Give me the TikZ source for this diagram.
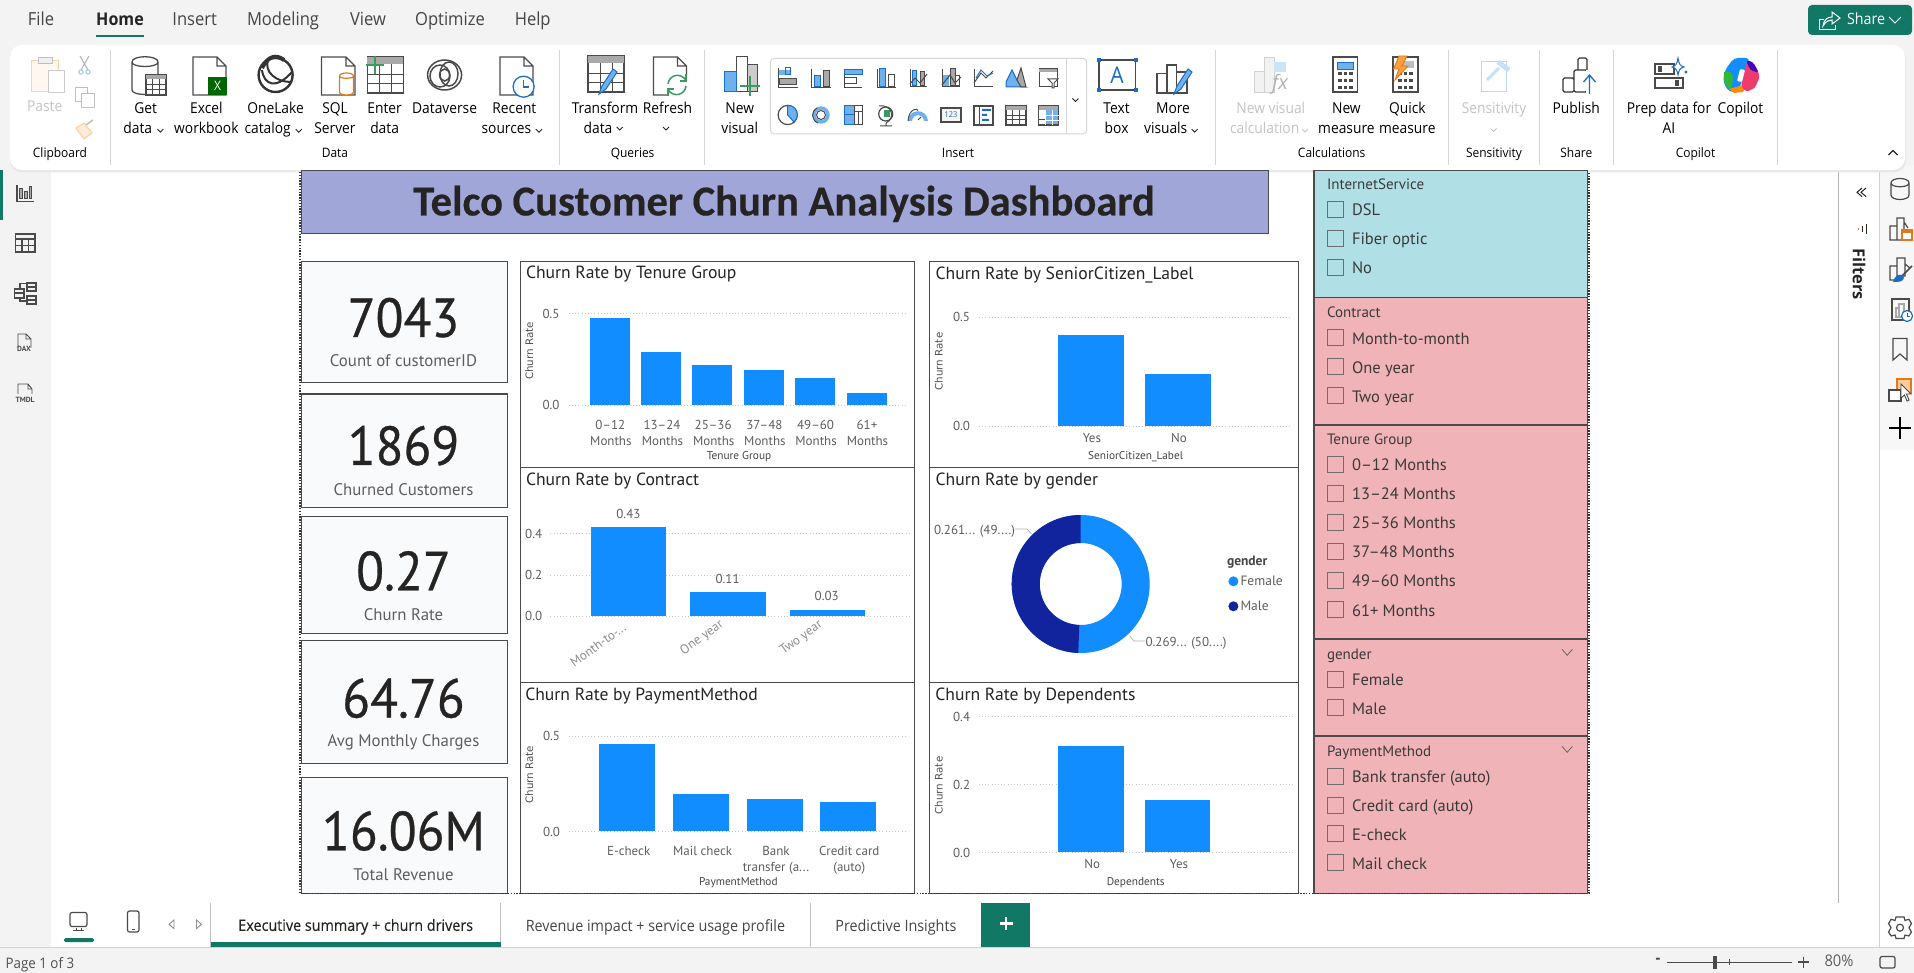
\documentclass[tikz,border=0pt]{standalone}
\usepackage{fontspec}
\setmainfont{Open Sans}
\newfontfamily\ui[FakeStretch=0.92]{Open Sans}
\newfontfamily\uim[FakeStretch=0.92,FakeBold=0.3]{Open Sans}
\newfontfamily\din{PT Sans}
\newfontfamily\dinnum[FakeStretch=0.93,FakeBold=0.5]{PT Sans}
\newfontfamily\vd{DejaVu Sans}
\newfontfamily\ttl[FakeBold=0.4]{Carlito}
\definecolor{pbgreen}{HTML}{117865}
\definecolor{pbblue}{HTML}{118DFF}
\definecolor{pbnavy}{HTML}{12239E}
\definecolor{chrome}{HTML}{F3F3F3}
\definecolor{ink}{HTML}{252423}
\definecolor{mid}{HTML}{605E5C}
\definecolor{dis}{HTML}{C4C4C4}
\definecolor{frame}{HTML}{4A4A4A}
\definecolor{cardbg}{HTML}{F9FAFC}
\definecolor{titlebg}{HTML}{A0A6D8}
\definecolor{cyanbg}{HTML}{B0E0E6}
\definecolor{pinkbg}{HTML}{F0B3B7}
\definecolor{icd}{HTML}{4A4A4A}
\definecolor{icb}{HTML}{6FB1EC}
\definecolor{icl}{HTML}{1B6EC2}
\definecolor{icg}{HTML}{A9A9A9}
\definecolor{ico}{HTML}{E07A1B}
\definecolor{icv}{HTML}{3C9A5F}
\newcounter{tn}
\newcommand\T[5][]{\stepcounter{tn}\node[txt,yshift=-.8pt,#1] (t\thetn) at (#2,#3) {\fontsize{#4}{#4}\selectfont\vphantom{Ag}#5};}
\newcommand\TN[5][]{\stepcounter{tn}\node[txt,#1] (t\thetn) at (#2,#3) {\fontsize{#4}{#4}\selectfont #5};}
\newcommand\RL[3]{\T{#1}{109}{15}{\ui #2}\T{#1}{129}{15}{\ui #3}}
\newcommand\GL[2]{\T{#1}{153.3}{13}{\ui #2}}
\newcommand\Chev[2]{\draw[ink,line width=.9] (#1-3,#2-1.5) -- (#1,#2+1.5) -- (#1+3,#2-1.5);}
\newcommand\Sep[1]{\draw[sepline] (#1,50) -- (#1,165);}
\newcommand\DocI[5][black!70]{\draw[line width=1.2,draw=#1,fill=white] (#2,#3) -- (#2+#4-9,#3) -- (#2+#4,#3+9) -- (#2+#4,#3+#5) -- (#2,#3+#5) -- cycle (#2+#4-9,#3) -- (#2+#4-9,#3+9) -- (#2+#4,#3+9);}
\newcommand\TabI[4]{\draw[line width=1.1,draw=icd,fill=white] (#1,#2) rectangle (#1+#3,#2+#4);
 \fill[icg] (#1,#2) rectangle (#1+#3,#2+#4/5);
 \draw[line width=.8,draw=icd] (#1+#3/3,#2+#4/5) -- (#1+#3/3,#2+#4) (#1+2*#3/3,#2+#4/5) -- (#1+2*#3/3,#2+#4) (#1,#2+#4*.47) -- (#1+#3,#2+#4*.47) (#1,#2+#4*.73) -- (#1+#3,#2+#4*.73);}
\newcommand\BarsI[5][white]{\draw[line width=1.2,draw=icd,fill=#1] (#2,#3+#5*.45) rectangle (#2+#4*.33,#3+#5);
 \draw[line width=1.2,draw=icd,fill=white] (#2+#4*.33,#3+#5*.2) rectangle (#2+#4*.66,#3+#5);
 \draw[line width=1.2,draw=icd,fill=white] (#2+#4*.66,#3+#5*.4) rectangle (#2+#4,#3+#5);}
\newcommand\CylI[5][icd]{\draw[line width=1.2,draw=#1,fill=#5] (#2,#3+3) -- (#2,#3+#4-3) .. controls (#2,#3+#4+1) and (#2+14,#3+#4+1) .. (#2+14,#3+#4-3) -- (#2+14,#3+3) .. controls (#2+14,#3-1) and (#2,#3-1) .. (#2,#3+3) .. controls (#2,#3+6) and (#2+14,#3+6) .. (#2+14,#3+3);}
\newcommand\PencilI[2]{\draw[line width=1,draw=icl,fill=icb] (#1,#2) -- (#1+3,#2-8) -- (#1+14,#2-25) -- (#1+18,#2-22) -- (#1+7,#2-5) -- cycle;}
\newcommand\CalcI[3]{\draw[line width=1.4,draw=icd,fill=white] (#1,#2) rectangle (#1+#3,#2+35);
 \foreach \r in {15,22,29}{\foreach \c in {5,10.5,16}{\fill[icd] (#1+\c,#2+\r) rectangle (#1+\c+3.5,#2+\r+3.5);}}}
\newcommand\ChkBox[1]{\draw[draw=frame!80,line width=.8] (1327.6,#1-8) rectangle (1343.2,#1+8);}
\newcommand\SlI[2]{\ChkBox{#1}\T[anchor=west]{1352}{#1+2}{16.5}{\din\color{ink!90} #2}}
\newcommand\SlH[2]{\T[anchor=west]{1327}{#1+1}{15}{\din\color{ink!90} #2}}
\newcommand\SlB[3]{\draw[draw=frame,line width=1.4,fill=#3] (1313.8,#1) rectangle (1587.4,#2);}
\newcommand\VChev[1]{\draw[mid,line width=.7] (1562,#1-3) -- (1567.2,#1+3) -- (1572.4,#1-3);}
\newcommand\GridL[3]{\draw[gridl] (#1,#3) -- (#2,#3);}
\newcommand\BarB[4]{\fill[pbblue] (#1,#3) rectangle (#2,#4);}
\newcommand\AX[3]{\T{#1}{#2+.8}{13}{\din\color{mid} #3}}
\newcommand\AT[3]{\T{#1}{#2+.8}{11.3}{\din\color{ink!85} #3}}
\newcommand\CR[2]{\T[rotate=90]{#1}{#2}{10.3}{\vd\color{ink!80} Churn Rate}}
\newcommand\CT[3]{\T[anchor=west]{#1}{#2+1.8}{17.6}{\din\color{ink} #3}}
\newcommand\CardB[2]{\draw[draw=frame,line width=1.3,fill=cardbg] (301.5,#1) rectangle (507.5,#2);}
\newcommand\ChartB[4]{\draw[draw=frame,line width=1.3,fill=white] (#1,#3) rectangle (#2,#4);}
\tikzset{txt/.style={inner sep=0pt,outer sep=0pt,align=center},
 sepline/.style={draw=black!16,line width=.8},
 gridl/.style={draw=black!22,line width=.8,dash pattern=on 1pt off 2.2pt},
 dotf/.style={draw=black!80,line width=1.4,dash pattern=on 1.4pt off 1.4pt}}
\begin{document}
\begin{tikzpicture}[x=1pt,y=-1pt]
\useasboundingbox (0,0) rectangle (1914,973);
% backgrounds
\fill[chrome] (0,0) rectangle (1914,973);
\fill[white] (51,165) rectangle (1880,947);
\fill[black!3] (1880,165) rectangle (1914,450);
\fill[white] (1880,450) rectangle (1914,947);
\draw[black!18,line width=1] (0,947.5) -- (1914,947.5);
\draw[black!18,line width=.8] (1879.7,165) -- (1879.7,947);
\draw[black!30,line width=1] (1838.3,165) -- (1838.3,902.7);
% ribbon
\fill[black!9,rounded corners=12pt] (10,47) rectangle (1906,172.5);
\fill[white,rounded corners=12pt] (10,45) rectangle (1905,170);
% menu
\T{41}{20.5}{18}{\ui\color{ink!85} File}
\T{120}{20.5}{17.5}{\ui\bfseries\color{ink} Home}
\T{194.7}{20.5}{18}{\ui\color{ink!85} Insert}
\T{283}{20.5}{18}{\ui\color{ink!85} Modeling}
\T{368}{20.5}{18}{\ui\color{ink!85} View}
\T{450}{20.5}{18}{\ui\color{ink!85} Optimize}
\T{532.7}{20.5}{18}{\ui\color{ink!85} Help}
\fill[pbgreen] (96,35) rectangle (144,37);
% share
\fill[pbgreen,rounded corners=4pt] (1808,5) rectangle (1912,35);
\T{1866}{20}{15.5}{\ui\color{white} Share}
\draw[white,line width=1] (1889,17) -- (1895,23) -- (1901,17);
\draw[white,line width=1] (1824,20) -- (1819,20) -- (1819,30) -- (1835,30) -- (1835,25);
\draw[white,line width=1] (1823,26) .. controls (1824,19) and (1828,17) .. (1832,17) -- (1832,12) -- (1840,18) -- (1832,24) -- (1832,20) .. controls (1829,20) and (1826,21) .. cycle;
% separators
\foreach \x in {110.8,559.7,704.2,1215.5,1448.5,1539.4,1613,1777.3}{\Sep{\x}}
% ribbon icons -------------------------------------------------
% clipboard group
\draw[line width=1,draw=orange!35,fill=orange!6] (31,61) rectangle (58,92);
\draw[line width=1,draw=black!20,fill=white] (48,71) rectangle (64,93);
\draw[line width=1,draw=black!25,fill=black!6] (38,58) rectangle (52,64);
\draw[line width=1,draw=black!30] (80,56) -- (88,70) (89,56) -- (81,70);
\draw[line width=1,draw=icb!70] (81,72) circle[radius=2.2] (88,72) circle[radius=2.2];
\draw[line width=1,draw=black!25,fill=white] (75,88) rectangle (87,102);
\draw[line width=1,draw=black!25,fill=white] (81,94) rectangle (94,108);
\draw[line width=1,draw=orange!40,fill=orange!15] (76,128) -- (84,123) -- (92,133) -- (84,139) -- cycle;
\draw[line width=1.5,draw=black!25] (86,125) -- (93,120);
\T{44.7}{107}{15}{\ui\color{dis} Paste}
\GL{60}{Clipboard}
% Get data
\draw[line width=1.3,draw=icd,fill=white] (132,62) -- (132,90) .. controls (132,96) and (158,96) .. (158,90) -- (158,62) .. controls (158,55) and (132,55) .. (132,62) .. controls (132,68) and (158,68) .. (158,62);
\TabI{146}{75}{20}{20}
\T{145.7}{109}{15}{\ui Get}
\T{137.8}{129}{15}{\ui data}\Chev{160.4}{130.7}
% Excel
\DocI{193}{57}{33}{38}
\fill[green!40!black] (208,77) rectangle (227,95);
\TN{217.5}{86}{13}{\ui\color{white} X}
\RL{206.4}{Excel}{workbook}
% OneLake
\draw[line width=2.4,draw=black!80] (275.6,75) circle[radius=17];
\draw[line width=4,draw=black!80] (262,68) .. controls (268,56) and (276,54) .. (284,60);
\draw[line width=2,draw=black!80] (262,70) .. controls (264,85) and (276,90) .. (292,72);
\draw[line width=2,draw=black!80] (268,60) .. controls (264,72) and (276,82) .. (291,82);
\T{275.6}{109}{15}{\ui OneLake}\T{267.6}{129}{15}{\ui catalog}\Chev{298.8}{130.7}
% SQL
\DocI{321.5}{57}{33.5}{38}
\CylI[ico]{339.5}{73}{22}{white}
\RL{335}{SQL}{Server}
% Enter data
\TabI{367.4}{57}{36}{36}
\draw[line width=2,draw=icv] (375,56) -- (375,74) (366,65) -- (384,65);
\RL{384.6}{Enter}{data}
% Dataverse
\draw[line width=1.5,draw=icd] (444.6,75) ellipse[x radius=17,y radius=15];
\draw[line width=1.5,draw=icd] (440,76) ellipse[x radius=10,y radius=11];
\draw[line width=1.5,draw=icd] (449,74) ellipse[x radius=9,y radius=12];
\draw[line width=1.5,draw=icd] (444.6,75) ellipse[x radius=5,y radius=6];
\T{444.6}{109}{15}{\ui Dataverse}
% Recent
\DocI{500}{57}{33}{38}
\draw[line width=1.3,draw=icl,fill=white] (523.6,86.7) circle[radius=10.5];
\draw[line width=1.1,draw=icl] (523.6,80) -- (523.6,87) -- (529,87);
\T{514.4}{109}{15}{\ui Recent}\T{506.4}{129}{15}{\ui sources}\Chev{539}{130.7}
\GL{335}{Data}
% Transform
\TabI{588}{56}{36}{36}
\PencilI{599}{94}
\T{605}{108.5}{15}{\ui Transform}\T{598}{128.5}{15}{\ui data}\Chev{619.7}{128.5}
% Refresh
\DocI{653.4}{57}{33}{38}
\fill[white] (667,75) rectangle (690,97);
\draw[line width=1.5,draw=icv] (668,84) .. controls (669,75) and (680,72) .. (686,80) (686,86) .. controls (685,95) and (674,98) .. (668,90);
\draw[line width=1.5,draw=icv] (686,74) -- (686,81) -- (680,81) (668,96) -- (668,89) -- (674,89);
\T{667.5}{108.5}{15}{\ui Refresh}\Chev{666}{128.5}
\GL{632.6}{Queries}
% New visual
\draw[line width=1,draw=icd,fill=white] (736,57) rectangle (747,92);
\draw[line width=1,draw=icd,fill=icg!60] (747,65) rectangle (757,92);
\draw[line width=1,draw=icl,fill=icb] (724,72) rectangle (736,92);
\draw[line width=2,draw=icv] (750,76) -- (750,96) (740,86) -- (760,86);
\RL{739.7}{New}{visual}
% gallery
\draw[draw=black!16,line width=1,rounded corners=4pt,fill=white] (770.3,58.3) rectangle (1086.7,134);
\draw[draw=black!16,line width=1] (1066.7,58.3) -- (1066.7,134);
\Chev{1075.4}{100}
\begin{scope}[line width=1]
% row 1
\draw[icd] (778,68) -- (778,88) -- (798,88);
\fill[icb] (779,70) rectangle (790,75); \draw[icl] (785,68) rectangle (790,75);
\draw[icd,fill=icg] (779,79) rectangle (796,85);
\draw[icd] (811,88) -- (831,88) (811,69) -- (811,88);
\draw[icl,fill=icb] (814,76) rectangle (820,87); \draw[icd,fill=icg] (823,71) rectangle (829,87);
\draw[icd] (844,88) -- (862,88) (844,69) -- (844,88);
\draw[icl,fill=icb] (844,70) rectangle (862,75); \draw[icd] (844,78) rectangle (856,84);
\draw[icd] (877,69) -- (877,88) -- (896,88);
\draw[icl,fill=icb] (879,69) rectangle (885,87); \draw[icd] (888,75) rectangle (894,87);
\draw[icd] (910,69) -- (910,87) -- (927,87);
\draw[icl,fill=icb] (912,71) rectangle (916,86); \draw[icd,fill=icg] (920,72) rectangle (924,86);
\draw[icd] (910,84) -- (915,78) -- (920,83) -- (927,74);
\draw[icd] (942,69) -- (942,87) -- (960,87);
\fill[icb] (943,75) rectangle (949,86); \draw[icd,fill=icg] (950,69) rectangle (955,86);
\draw[icd] (955,76) rectangle (959,86);
\draw[icd] (942,85) -- (950,75) -- (955,83) -- (961,77);
\draw[icd] (974,69) -- (974,87) -- (993,87);
\draw[icd] (974,83) -- (981,73) -- (986,78) -- (993,71);
\draw[icl] (976,78) -- (981,70) -- (987,76) -- (993,73);
\draw[icl,fill=icb] (1006,87) -- (1006,82) -- (1012,70) -- (1017,80) -- (1021,86) -- (1025,87) -- cycle;
\draw[icd,fill=icg] (1017,80) -- (1021,68) -- (1026,87) -- (1021,87) -- cycle;
\draw[icd] (1039,69) rectangle (1057,87); \fill[icg] (1039,69) rectangle (1057,72);
\draw[icd,fill=white] (1048,79) -- (1058,79) -- (1054,83) -- (1054,88) -- (1052,88) -- (1052,83) -- cycle;
% row 2
\draw[icd,line width=1.2,fill=white] (787.7,115) circle[radius=9.6];
\draw[icl,fill=icb] (787.7,115) -- (787.7,105.4) .. controls (794,105.4) and (797.3,110) .. (797.3,115) .. controls (797.3,118) and (796,120) .. (794,122) -- cycle;
\draw[icb,line width=3.4] (821,115) circle[radius=7];
\draw[icd,line width=1] (817,108) .. controls (811,111) and (811,120) .. (818,123) (821,115) circle[radius=4.5];
\fill[icb] (844,106) rectangle (854,125); \draw[icl,line width=1] (844,106) rectangle (854,125) (844,115) -- (854,115);
\draw[icd] (854,106) rectangle (862,125) (854,112) -- (862,112) (858,112) -- (858,125);
\draw[icd,line width=1.2] (885.7,114) circle[radius=7];
\fill[icv] (884,110) rectangle (890,117);
\draw[icd] (879,106) .. controls (892,104) and (896,118) .. (886,123) -- (886,126) (880,126) -- (892,126);
\fill[icb] (908,121) .. controls (909,108) and (927,108) .. (928,121) -- (924,121) .. controls (923,113) and (913,113) .. (912,121) -- cycle;
\draw[icd] (908,121) .. controls (909,108) and (918,108) .. (918,110.5);
\draw[icd] (918,120) -- (921,117);
\draw[icd,line width=1.2,fill=black!4] (941,108) rectangle (961,122);
\TN{951}{115}{8}{\ui\color{icl} 123}
\draw[icd,line width=1.2] (974,106) rectangle (993,125); \draw[icd] (979,106) -- (979,125);
\fill[icl] (982,109) rectangle (991,111) (982,114) rectangle (987,116) (982,119) rectangle (989,121);
\TabI{1006}{106}{20}{19}
\TabI{1038.5}{106}{20}{19}
\fill[icb] (1045,110) rectangle (1058.5,125);
\draw[icd] (1038.5,106) rectangle (1058.5,125);
\draw[white,line width=.7] (1045,110) -- (1045,125) (1052,110) -- (1052,125) (1038.5,115) -- (1058.5,115) (1038.5,120) -- (1058.5,120);
\end{scope}
\GL{958}{Insert}
% Text box
\draw[line width=1.2,draw=icd,fill=white] (1099,60) rectangle (1135.5,90);
\foreach \p in {(1099,60),(1135.5,60),(1099,90),(1135.5,90)}{\fill[icl] \p +(-2,-2) rectangle +(2,2);}
\TN{1117}{75}{23}{\ui\color{icl} A}
\T{1116.6}{109}{15}{\ui Text}\T{1116.6}{129}{15}{\ui box}
% More visuals
\BarsI{1157}{58}{30}{35}
\PencilI{1174}{94}
\T{1173}{109}{15}{\ui More}\T{1165.7}{129}{15}{\ui visuals}\Chev{1194.6}{130.7}
% calc group
\draw[line width=1,draw=black!18,fill=black!5] (1254,72) rectangle (1264,93);
\draw[line width=1,draw=black!18,fill=black!5] (1264,58) rectangle (1274,93);
\fill[icb!35] (1274,62) rectangle (1286,72);
\TN{1280}{84}{20}{\rmfamily\itshape\color{black!30} fx}
\T{1270.8}{109}{15}{\ui\color{dis} New visual}\T{1264.7}{129}{15}{\ui\color{dis} calculation}\draw[dis,line width=.9] (1302,129) -- (1305,132) -- (1308,129);
\CalcI{1333}{57}{24.5}
\draw[draw=icl,fill=icb] (1337,62) rectangle (1353,69);
\T{1346.4}{109}{15}{\ui New}\T{1346.4}{129}{15}{\ui measure}
\CalcI{1393}{57}{25}
\fill[black!25] (1396,61) rectangle (1414,68);
\draw[line width=.9,draw=ico,fill=orange!75] (1399,56) -- (1407,56) -- (1402,66) -- (1408,66) -- (1395,80) -- (1399,69) -- (1393.5,69) -- cycle;
\T{1407.3}{109}{15}{\ui Quick}\T{1407.3}{129}{15}{\ui measure}
\GL{1331.7}{Calculations}
% sensitivity
\draw[line width=1,draw=icb!50,fill=white] (1481,62) rectangle (1506,92);
\draw[line width=3,draw=icb!40] (1487,80) -- (1499,68);
\draw[line width=5,draw=icb!40] (1498,62) -- (1509,70);
\T{1494}{109}{15}{\ui\color{dis} Sensitivity}\draw[dis,line width=.9] (1490.5,128.5) -- (1493.5,131.5) -- (1496.5,128.5);
\GL{1494}{Sensitivity}
% publish
\draw[line width=1.3,draw=black!80,rounded corners=1.5pt] (1563,78) rectangle (1574,92) (1574,70) rectangle (1587,92) (1578,70) -- (1578,58) -- (1587,58) -- (1587,70);
\fill[white] (1586,70) rectangle (1599,94);
\draw[line width=1.3,draw=icl] (1589.5,94) -- (1589.5,75) (1583.5,82) -- (1589.5,75) -- (1595.5,82);
\T{1576.3}{109}{15}{\ui Publish}
\GL{1576.3}{Share}
% prep data
\draw[line width=1.3,draw=icd] (1655,64) rectangle (1674,74);
\fill[icd] (1658,66) rectangle (1662,72);
\draw[line width=1.3,draw=icd] (1655,78) rectangle (1683,88);
\fill[icd] (1675,80) rectangle (1679,86);
\draw[line width=1,draw=icl,fill=white] (1678,58) .. controls (1679,64) and (1680,66) .. (1684,67) .. controls (1680,68) and (1679,70) .. (1678,75) .. controls (1677,70) and (1676,68) .. (1672,67) .. controls (1676,66) and (1677,64) .. cycle;
\fill[icl] (1686,72) circle[radius=1.6];
\T{1669}{109}{15}{\ui Prep data for}\T{1669}{129}{15}{\ui AI}
% copilot
\fill[pbblue,rounded corners=4pt] (1734,58) -- (1750,58) -- (1746,70) -- (1738,92) -- (1729,92) -- (1723,82) -- (1725,70) -- cycle;
\fill[green!65!black!80] (1724,72) .. controls (1728,70) and (1733,72) .. (1733,78) -- (1731,90) .. controls (1726,88) and (1723,82) .. cycle;
\fill[orange!90!yellow] (1729,89) -- (1747,84) -- (1743,92) -- (1734,93) -- cycle;
\fill[magenta!60!orange,rounded corners=3pt] (1746,63) -- (1754,64) -- (1760,76) -- (1755,88) -- (1746,92) -- (1741,86) -- cycle;
\fill[violet!55!blue,rounded corners=3pt] (1746,60) -- (1753,62) -- (1759,73) -- (1750,70) -- cycle;
\fill[white,rounded corners=1pt] (1740,69) -- (1745,70) -- (1742,82) -- (1737,81) -- cycle;
\T{1740.4}{109}{15}{\ui Copilot}
\GL{1695.6}{Copilot}
\draw[ink,line width=1.1] (1888.5,155) -- (1893,150.5) -- (1897.5,155);
% sidebar
\fill[pbgreen] (0,170) rectangle (3,220);
\draw[line width=1.1,draw=icd] (17,185) -- (17,201.5) -- (33.5,201.5);
\foreach \a/\b in {19.5/189,24.5/192,29/187}{\draw[line width=1,draw=icd,fill=icg] (\a,\b) rectangle (\a+2.8,199);}
\draw[line width=1.2,draw=icd] (15.5,234) rectangle (35,252) (15.5,239) -- (35,239) (15.5,245.5) -- (35,245.5) (22,239) -- (22,252) (28.5,239) -- (28.5,252);
\draw[line width=1.1,draw=icd] (14.5,289) rectangle (24,298) (14.5,293) -- (24,293) (27,283) rectangle (36,291) (27,287) -- (36,287) (27,296) rectangle (36,304) (27,300) -- (36,300) (20,289) -- (20,283.5) -- (27,283.5) (20,298) -- (20,301) -- (27,301);
\draw[line width=.9,draw=icd] (18,348) -- (18,334) -- (26,334) -- (31,339) -- (31,348) (26,334) -- (26,339) -- (31,339);
\TN{24}{349}{7.5}{\din\bfseries\color{icd} DAX}
\draw[line width=.9,draw=icd] (18,394) -- (18,384) -- (28,384) -- (32,389) -- (32,394) (28,384) -- (28,389) -- (32,389);
\TN{25}{400}{7.5}{\din\bfseries\color{icd} TMDL}
% canvas: title
\draw[draw=frame,line width=1.3,fill=titlebg] (301.4,170.5) rectangle (1268.7,233.3);
\T{784}{204.5}{42.6}{\ttl\bfseries\color{ink} Telco Customer Churn Analysis Dashboard}
% cards
\CardB{261.7}{382.3}\CardB{394}{507.3}\CardB{516.7}{633.3}\CardB{640.7}{763.3}\CardB{777.7}{893.5}
\foreach \y/\v/\ly/\l in {317.7/7043/361.7/Count of customerID,445.7/1869/490.7/Churned Customers,571/0.27/616/Churn Rate,698.3/64.76/741.7/Avg Monthly Charges,831/16.06M/876/Total Revenue}{
 \TN{403.5}{\y}{55}{\dinnum\color{ink} \v}
 \T{403.5}{\ly}{16.8}{\din\color{mid} \l}
}
% charts
\ChartB{520.2}{914.5}{261.7}{467.3}\ChartB{520.2}{914.5}{467.3}{682.5}\ChartB{520.2}{914.5}{682.5}{893.5}
\ChartB{929.8}{1298.6}{261.7}{467.3}\ChartB{929.8}{1298.6}{467.3}{682.5}\ChartB{929.8}{1298.6}{682.5}{893.5}
% Tenure
\CT{526}{272}{Churn Rate by Tenure Group}
\GridL{568.8}{907}{313.7}\GridL{568.8}{907}{405}
\AX{551}{313.7}{0.5}\AX{551}{405}{0.0}\CR{530.4}{350.3}
\BarB{590}{630}{318.3}{405}\BarB{641}{681}{352.3}{405}\BarB{692.4}{732.4}{365.3}{405}\BarB{743.9}{783.9}{370}{405}\BarB{795.3}{835.3}{378.3}{405}\BarB{846.7}{886.7}{393}{405}
\foreach \x/\a in {610.4/0–12,662/13–24,713.2/25–36,764.4/37–48,815.6/49–60,867/61+}{\AX{\x}{424.7}{\a}\AX{\x+.5}{440.7}{Months}}
\AT{739}{455.3}{Tenure Group}
% Contract
\CT{526}{478.3}{Churn Rate by Contract}
\GridL{550.4}{909.6}{533.7}\GridL{550.4}{909.6}{575}\GridL{550.4}{909.6}{616}
\AX{533.7}{533.7}{0.4}\AX{533.7}{575}{0.2}\AX{533.7}{616}{0.0}
\BarB{590.8}{666.3}{527.3}{616}\BarB{690}{765.5}{592.3}{616}\BarB{789.6}{864.7}{610}{616}
\AX{628.4}{513.7}{0.43}\AX{727.6}{578.7}{0.11}\AX{826.7}{595.7}{0.03}
\TN[rotate=36]{598}{645}{13}{\din\color{mid!70} Month-to-...}
\TN[rotate=36]{702}{638}{13}{\din\color{mid!70} One year}
\TN[rotate=36]{801.4}{638}{13}{\din\color{mid!70} Two year}
% Payment
\CT{525.3}{693.3}{Churn Rate by PaymentMethod}
\GridL{568.7}{907.3}{736}\GridL{568.7}{907.3}{831.3}
\AX{551.5}{736}{0.5}\AX{551.5}{831.3}{0.0}\CR{530.4}{774}
\BarB{599.3}{655.4}{744.3}{831.3}\BarB{672.7}{728.8}{794.3}{831.3}\BarB{746.6}{802.8}{799}{831.3}\BarB{820}{876}{802}{831.3}
\AX{628.7}{851}{E-check}\AX{702.6}{851}{Mail check}\AX{776}{851}{Bank}\AX{776}{867}{transfer (a...}\AX{849.3}{851}{Credit card}\AX{849.3}{867}{(auto)}
\AT{738.3}{881.3}{PaymentMethod}
% Senior
\CT{935.6}{272.3}{Churn Rate by SeniorCitizen\_Label}
\GridL{979}{1292}{317.3}\GridL{979}{1292}{426}
\AX{961.5}{317.3}{0.5}\AX{961.5}{426}{0.0}\CR{940}{360.7}
\BarB{1057.5}{1123.6}{335}{426}\BarB{1144.6}{1210.6}{374.3}{426}
\AX{1091.9}{438}{Yes}\AX{1179}{438}{No}\AT{1135.6}{455.3}{SeniorCitizen\_Label}
% Gender
\CT{935.6}{478.3}{Churn Rate by gender}
\fill[pbblue,even odd rule] (1080.7,584) circle[radius=69] (1080.7,584) circle[radius=41];
\fill[pbnavy] (1080.7,515) arc[start angle=90,end angle=268,radius=69pt] -- (1079.3,625) arc[start angle=268,end angle=90,radius=41pt] -- cycle;
\AX{974.5}{529.7}{0.261... (49....)}\AX{1186}{641.7}{0.269... (50....)}
\draw[black!30,line width=.8] (1015,529) -- (1027,529) -- (1031.6,534);
\draw[black!30,line width=.8] (1129.8,636) -- (1134,641) -- (1145.4,641);
\T[anchor=west]{1227}{561.5}{13.5}{\din\bfseries\color{ink!85} gender}
\fill[pbblue] (1233.4,581.3) circle[radius=5];\fill[pbnavy] (1233.4,606.3) circle[radius=5];
\T[anchor=west]{1240.5}{581.3}{13.5}{\din\color{mid} Female}\T[anchor=west]{1240.5}{606.3}{13.5}{\din\color{mid} Male}
% Dependents
\CT{935.4}{693.3}{Churn Rate by Dependents}
\GridL{978.8}{1293}{716.7}\GridL{978.8}{1293}{784.7}\GridL{978.8}{1293}{852.3}
\AX{961.6}{716.7}{0.4}\AX{961.6}{784.7}{0.2}\AX{961.6}{852.3}{0.0}\CR{940}{784.7}
\BarB{1057.8}{1123.5}{746}{852.3}\BarB{1144.6}{1210.3}{799.7}{852.3}
\AX{1092.3}{864}{No}\AX{1179}{864}{Yes}\AT{1135.7}{881.3}{Dependents}
% slicers
\SlB{170.3}{297.3}{cyanbg}\SlB{297.3}{425}{pinkbg}\SlB{425}{639}{pinkbg}\SlB{639}{736}{pinkbg}\SlB{736}{893.3}{pinkbg}
\SlH{184.3}{InternetService}\SlI{209}{DSL}\SlI{238}{Fiber optic}\SlI{267}{No}
\SlH{312.3}{Contract}\SlI{337.3}{Month-to-month}\SlI{366.3}{One year}\SlI{395.3}{Two year}
\SlH{439.3}{Tenure Group}\SlI{464}{0–12 Months}\SlI{493}{13–24 Months}\SlI{522}{25–36 Months}\SlI{551}{37–48 Months}\SlI{580}{49–60 Months}\SlI{609.3}{61+ Months}
\SlH{654.3}{gender}\SlI{679}{Female}\SlI{707.7}{Male}\VChev{652.3}
\SlH{751.3}{PaymentMethod}\SlI{776}{Bank transfer (auto)}\SlI{805}{Credit card (auto)}\SlI{833.7}{E-check}\SlI{862.7}{Mail check}\VChev{749.3}
% dotted frame
\draw[dotf] (299.8,172) -- (299.8,893.5) -- (1589,893.5) -- (1589,172);
% filters pane
\draw[ink,line width=1] (1862,188) -- (1857,192.3) -- (1862,196.6) (1866,188) -- (1861,192.3) -- (1866,196.6);
\draw[ink,line width=1] (1866,224) -- (1866,234) (1862,226) -- (1862,232);\draw[ico,line width=1] (1858,228) -- (1858,230);
\TN[rotate=-90]{1859}{274}{16.5}{\bfseries\color{ink} Filters}
% right icons
\draw[line width=1.2,draw=icd] (1891,183) -- (1891,195) .. controls (1891,201) and (1909,201) .. (1909,195) -- (1909,183) .. controls (1909,177) and (1891,177) .. (1891,183) .. controls (1891,188) and (1909,188) .. (1909,183);
\begin{scope}[line width=1.2]
\draw[draw=icd] (1890,226) rectangle (1897,240) (1897,218) rectangle (1904,240) (1904,222) -- (1908,228);
\draw[draw=ico,fill=white] (1902,230) rectangle (1912,240);\draw[draw=ico] (1902,232) -- (1912,232);
\draw[draw=icd] (1890,266) rectangle (1897,280) (1897,258) rectangle (1905,276) (1905,264) -- (1910,268);
\draw[line width=1.5,draw=icd] (1912,266) -- (1902,276);
\fill[icl] (1893,282) .. controls (1895,274) and (1903,272) .. (1904,278) .. controls (1903,282) and (1898,282) .. (1893,282) -- cycle;
\draw[draw=icd] (1892,299) rectangle (1909,320);\draw[draw=icg] (1896,308) rectangle (1899,317) (1899,304) rectangle (1904,317);
\draw[draw=icl,fill=white] (1907,316) circle[radius=5.5];\draw[draw=icl,line width=.8] (1907,313) -- (1907,316) -- (1909.5,316);
\draw[draw=icd] (1893,338.5) -- (1907,338.5) -- (1907,360) -- (1900,354) -- (1893,360) -- cycle;
\draw[draw=ico,fill=orange!40] (1897,379) rectangle (1911,393);
\draw[line width=1.4,draw=icd,fill=white] (1889,390) rectangle (1901,401);
\draw[draw=icd,fill=white,line width=.9] (1901,384) -- (1901,398) -- (1904.5,395) -- (1907,401) -- (1909,400) -- (1906.5,394) -- (1911,394) -- cycle;
\draw[line width=1.2,draw=black] (1900,417) -- (1900,439) (1889,428) -- (1911,428);
\end{scope}
% tabs
\draw[black!25,line width=.9] (210.7,903) -- (210.7,947) (500.5,903) -- (500.5,947) (810.4,903) -- (810.4,947);
\fill[pbgreen] (210.7,942.3) rectangle (500.5,947);
\T{355.7}{926}{15.6}{\uim\color{ink} Executive summary + churn drivers}
\T{655.4}{926.3}{15.6}{\ui\color{ink!85} Revenue impact + service usage profile}
\T{895.9}{926.3}{15.6}{\ui\color{ink!85} Predictive Insights}
\fill[pbgreen] (981.3,903) rectangle (1029.8,947);
\draw[white,line width=2.6] (1006,917) -- (1006,930) (999.5,923.5) -- (1012.5,923.5);
% device icons
\draw[line width=1.2,draw=icd,rounded corners=2pt] (70,912.5) rectangle (87,926.5);
\draw[line width=1,draw=icd] (76,928) -- (76,930) (81,928) -- (81,930) (73,930.5) -- (84,930.5);
\fill[pbgreen,rounded corners=1.5pt] (64,938) rectangle (94,942);
\draw[line width=1.2,draw=icd,rounded corners=2pt] (127.5,911) rectangle (139,932);
\draw[line width=1,draw=icd] (131.5,929) -- (135,929);
\draw[line width=.9,draw=black!45] (174,920) -- (169,924.3) -- (174,928.6) -- cycle;
\draw[line width=.9,draw=black!45] (196.5,920) -- (201.5,924.3) -- (196.5,928.6) -- cycle;
% status bar
\T[anchor=west]{5.7}{964}{14.5}{\ui\color{ink!80} Page 1 of 3}
\TN{1658}{961}{16}{\ui\bfseries\color{icd} -}
\draw[icd,line width=.8] (1667,962) -- (1792,962) (1729.3,959) -- (1729.3,965);
\fill[icd] (1713.4,955.5) rectangle (1717.4,968.5);
\draw[icd,line width=1.6] (1803.3,956.5) -- (1803.3,967.5) (1798,962) -- (1808.6,962);
\T{1839}{962}{16}{\ui\color{mid} 80\%}
\draw[line width=1.2,draw=icd,rounded corners=2pt] (1880,956.5) rectangle (1895,968);
% gear
\draw[line width=1.2,draw=icd] (1900,927.7) circle[radius=3.5];
\draw[line width=1.2,draw=icd] (1896,917) -- (1904,917) -- (1905,920.5) -- (1908.8,919.2) -- (1911.5,923.5) -- (1909,927.7) -- (1911.5,932) -- (1908.8,936) -- (1905,935) -- (1904,938.5) -- (1896,938.5) -- (1895,935) -- (1891.2,936) -- (1888.5,932) -- (1891,927.7) -- (1888.5,923.5) -- (1891.2,919.2) -- (1895,920.5) -- cycle;
\end{tikzpicture}
\end{document}
